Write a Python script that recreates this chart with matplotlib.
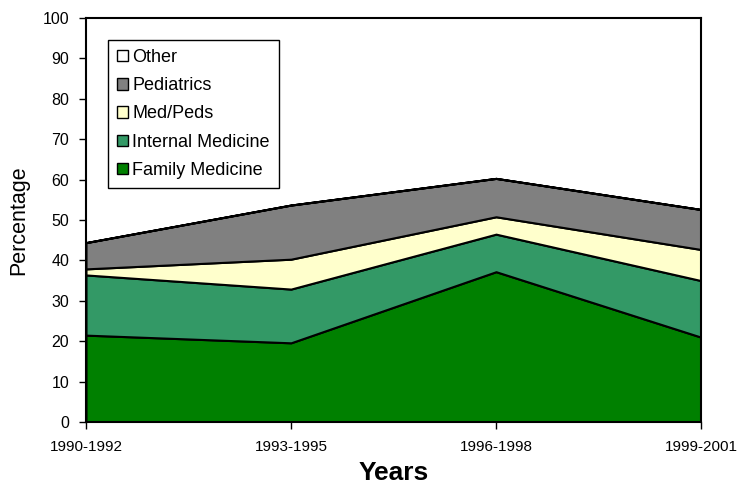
import numpy as np
import matplotlib.pyplot as plt
from matplotlib.patches import Patch

plt.rcParams['font.family'] = ['Liberation Sans', 'DejaVu Sans']

years = ['1990-1992', '1993-1995', '1996-1998', '1999-2001']
family_med = [21.5, 19.6, 37.2, 21.0]
internal_med = [14.9, 13.3, 9.3, 14.0]
med_peds = [1.5, 7.4, 4.3, 7.7]
pediatrics = [6.5, 13.4, 9.5, 9.9]
other = [0, 0, 0, 0]

labels = ['Family Medicine', 'Internal Medicine', 'Med/Peds', 'Pediatrics', 'Other']
colors = ['#008000', '#339966', '#ffffcc', '#808080', '#ffffff']

fig = plt.figure(figsize=(7.45, 4.87), dpi=100)
ax = fig.add_axes([0.1154, 0.1335, 0.8256, 0.8295])

x = np.arange(len(years))
ax.stackplot(x, family_med, internal_med, med_peds, pediatrics, other,
             colors=colors, edgecolor='black', linewidth=1.5)

ax.set_xlim(0, 3)
ax.set_ylim(0, 100)
ax.set_xticks(x)
ax.set_xticklabels(years, fontsize=11)
ax.set_yticks(np.arange(0, 101, 10))
ax.tick_params(axis='y', labelsize=11.5, direction='out', length=5, width=1, pad=7)
ax.tick_params(axis='x', direction='out', length=5, width=1, pad=8)
for s in ax.spines.values():
    s.set_linewidth(1.5)

ax.set_ylabel('Percentage', fontsize=15.5, labelpad=10)
ax.set_xlabel('Years', fontsize=19, fontweight='bold', labelpad=5)

handles = [Patch(facecolor=c, edgecolor='black', linewidth=1) for c in colors[::-1]]
leg = ax.legend(handles, labels[::-1], loc='upper left', bbox_to_anchor=(0.036, 0.9455),
                fontsize=13, fancybox=False, framealpha=1, edgecolor='black',
                handlelength=0.6, handleheight=0.6, handletextpad=0.25,
                labelspacing=0.62, borderpad=0.5, borderaxespad=0)
leg.get_frame().set_linewidth(1)

plt.savefig('out.png', dpi=100)
